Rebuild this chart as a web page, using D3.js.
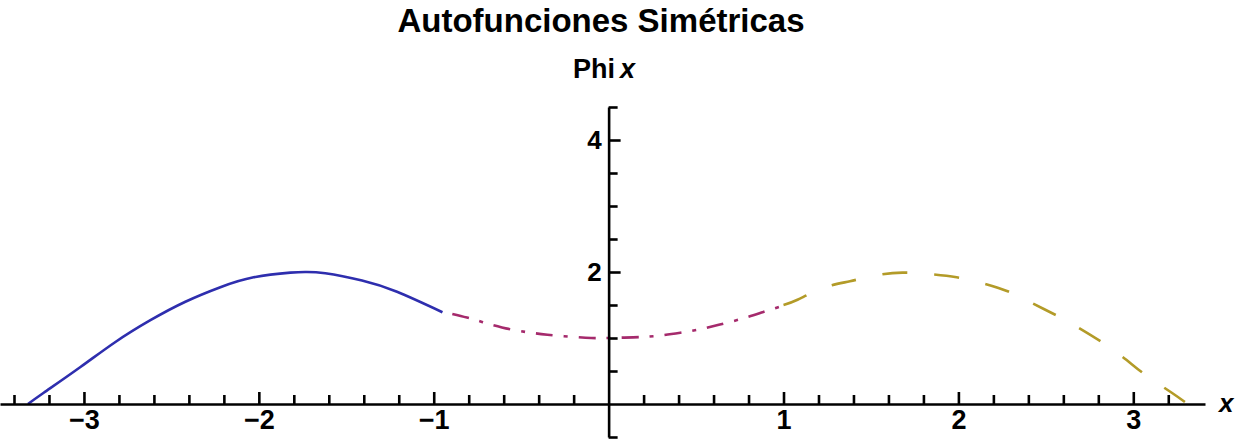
<!DOCTYPE html>
<html>
<head>
<meta charset="utf-8">
<script src="https://cdnjs.cloudflare.com/ajax/libs/d3/7.8.5/d3.min.js"></script>
<style>
  body { margin: 0; background: #fff; }
  svg { display: block; }
  text { font-family: "Liberation Sans", Arial, sans-serif; fill: #000; }
</style>
</head>
<body>
<svg id="svg"></svg>
<script>
const width = 1239;
const height = 441;

// values
const title = "Autofunciones Simétricas";
const blueX = [-3.32, -3.23, -3.02, -2.82, -2.62, -2.42, -2.22, -2.03, -1.82, -1.73, -1.62, -1.41, -1.21, -0.95];
const blueY = [0, 0.17, 0.56, 0.94, 1.27, 1.55, 1.77, 1.92, 1.99, 2.0, 1.98, 1.87, 1.70, 1.39];
const magentaX = [-0.95, -0.81, -0.72, -0.61, -0.47, -0.35, -0.22, -0.1, 0, 0.14, 0.27, 0.41, 0.52, 0.63, 0.76, 0.88, 1.02];
const magentaY = [1.40, 1.31, 1.24, 1.16, 1.09, 1.05, 1.02, 1.0, 1.0, 1.01, 1.03, 1.08, 1.13, 1.20, 1.29, 1.39, 1.51];
const oliveX = [1.0, 1.08, 1.23, 1.38, 1.53, 1.68, 1.83, 1.99, 2.14, 2.29, 2.42, 2.57, 2.69, 2.83, 2.96, 3.07, 3.22, 3.31];
const oliveY = [1.5, 1.58, 1.76, 1.86, 1.95, 1.99, 1.97, 1.92, 1.83, 1.70, 1.53, 1.33, 1.15, 0.92, 0.67, 0.44, 0.17, 0];
const xMajor = [-3, -2, -1, 1, 2, 3];
const xMinor = [-3.4, -3.2, -2.8, -2.6, -2.4, -2.2, -1.8, -1.6, -1.4, -1.2, -0.8, -0.6, -0.4, -0.2,
                0.2, 0.4, 0.6, 0.8, 1.2, 1.4, 1.6, 1.8, 2.2, 2.4, 2.6, 2.8, 3.2];
const yMajor = [2, 4];
const yMinor = [-0.5, 0.5, 1, 1.5, 2.5, 3, 3.5, 4.5];

const svg = d3.select("#svg").attr("width", width).attr("height", height);

const x = d3.scaleLinear().domain([-3.48, 3.41]).range([0, 1205]);
const y = d3.scaleLinear().domain([-0.5, 4.5]).range([437, 107]);

// curves
const line = d3.line().x((d) => x(d[0])).y((d) => y(d[1])).curve(d3.curveNatural);

svg.append("path")
  .attr("d", line(d3.zip(blueX, blueY)))
  .attr("fill", "none")
  .attr("stroke", "#2e2eae")
  .attr("stroke-width", 2.6);

svg.append("path")
  .attr("d", line(d3.zip(magentaX, magentaY)))
  .attr("fill", "none")
  .attr("stroke", "#a52a6c")
  .attr("stroke-width", 2.6)
  .attr("stroke-dasharray", "17,11,4,11")
  .attr("stroke-dashoffset", 33);

svg.append("path")
  .attr("d", line(d3.zip(oliveX, oliveY)))
  .attr("fill", "none")
  .attr("stroke", "#b39b28")
  .attr("stroke-width", 2.6)
  .attr("stroke-dasharray", "25,27");

// x axis (ticks pointing up)
const x0 = y(0);
svg.append("g")
  .attr("transform", `translate(0,${x0})`)
  .call(d3.axisTop(x).tickValues(xMinor).tickSize(9).tickSizeOuter(0).tickFormat(""));
svg.append("g")
  .attr("transform", `translate(0,${x0})`)
  .call(d3.axisTop(x).tickValues(xMajor).tickSize(12).tickSizeOuter(0).tickFormat(""))
  .call((g) => g.select(".domain").remove());
svg.append("g")
  .attr("transform", `translate(0,${x0})`)
  .call(d3.axisBottom(x).tickValues(xMajor).tickSize(0).tickPadding(6)
    .tickFormat((d) => (d < 0 ? "\u2212" + Math.abs(d) : d)))
  .call((g) => g.select(".domain").remove())
  .selectAll("text")
  .attr("font-size", 27)
  .attr("font-weight", "bold");

// y axis (ticks pointing right)
const y0 = x(0);
svg.append("g")
  .attr("transform", `translate(${y0},0)`)
  .call(d3.axisRight(y).tickValues(yMinor).tickSize(9).tickSizeOuter(0).tickFormat(""));
svg.append("g")
  .attr("transform", `translate(${y0},0)`)
  .call(d3.axisRight(y).tickValues(yMajor).tickSize(12).tickSizeOuter(0).tickFormat(""))
  .call((g) => g.select(".domain").remove());
svg.append("g")
  .attr("transform", `translate(${y0},0)`)
  .call(d3.axisLeft(y).tickValues(yMajor).tickSize(0).tickPadding(7).tickFormat(d3.format("d")))
  .call((g) => g.select(".domain").remove())
  .selectAll("text")
  .attr("font-size", 26)
  .attr("font-weight", "bold");

svg.selectAll(".domain, .tick line")
  .attr("stroke", "#000")
  .attr("stroke-width", 2.6);
svg.selectAll(".tick text").attr("font-family", null).style("fill", "#000");

// axis labels and title
svg.append("text")
  .attr("x", 601)
  .attr("y", 32)
  .attr("text-anchor", "middle")
  .attr("font-size", 33)
  .attr("font-weight", "bold")
  .text(title);

const phi = svg.append("text")
  .attr("x", 573)
  .attr("y", 78)
  .attr("font-size", 27)
  .attr("font-weight", "bold");
phi.append("tspan").text("Phi");
phi.append("tspan").attr("dx", 5).attr("font-style", "italic").text("x");

svg.append("text")
  .attr("x", 1219)
  .attr("y", 412)
  .attr("font-size", 26)
  .attr("font-weight", "bold")
  .attr("font-style", "italic")
  .text("x");
</script>
</body>
</html>
